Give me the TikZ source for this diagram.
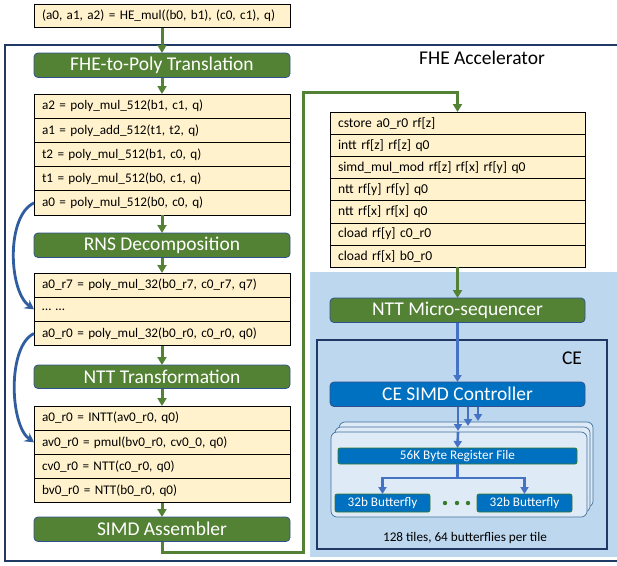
\documentclass[tikz,border=0pt]{standalone}
\usepackage{fontspec}
\setmainfont{Carlito}
\usepackage{tikz}
\usetikzlibrary{arrows.meta,positioning}
\definecolor{rowfill}{HTML}{FFF2CC}
\definecolor{stagegreen}{HTML}{548235}
\definecolor{stageborder}{HTML}{2F528F}
\definecolor{framenavy}{HTML}{1F3864}
\definecolor{regionblue}{HTML}{BDD7EE}
\definecolor{tilefill}{HTML}{DEEBF7}
\definecolor{tileborder}{HTML}{41719C}
\definecolor{ctrlblue}{HTML}{0070C0}
\definecolor{bfborder}{HTML}{3A7A2A}
\definecolor{wireblue}{HTML}{4472C4}
\definecolor{loopblue}{HTML}{2F5D9F}
\newcommand{\rowfont}{\fontsize{13.2}{15}\selectfont}
\newcommand{\instrfont}{\fontsize{13.6}{15}\selectfont}
\newcommand{\stagefont}{\fontsize{19.5}{22}\selectfont}
\newcommand{\smallfont}{\fontsize{13.2}{15}\selectfont}
\tikzset{
  row/.style={draw=black, line width=0.8pt, fill=rowfill, minimum height=24.2pt,
    text width=240pt, inner xsep=8pt, inner ysep=0pt, outer sep=0pt,
    anchor=north west, font=\rowfont},
  rrow/.style={row, minimum height=22.2pt, text width=239pt, font=\instrfont},
  stage/.style={draw=stageborder, line width=0.8pt, fill=stagegreen, rounded corners=4pt,
    minimum width=256pt, minimum height=24.5pt, inner sep=0pt, outer sep=0pt,
    anchor=north west, text=white, font=\stagefont},
  ctrl/.style={stage, fill=ctrlblue},
  unit/.style={draw=bfborder, line width=0.8pt, fill=ctrlblue, rounded corners=2pt,
    inner sep=0pt, outer sep=0pt, anchor=north west, text=white, font=\rowfont},
  tile/.style={draw=tileborder, line width=0.7pt, fill=tilefill, rounded corners=6pt},
  flow/.style={draw=stagegreen, line width=3pt, -{Triangle[length=8pt,width=9pt]}},
  wire/.style={draw=wireblue, line width=2.6pt, -{Triangle[length=7pt,width=8pt]}},
  loop/.style={draw=loopblue, line width=2.8pt, -{Stealth[length=9pt,width=10pt]}},
}
\begin{document}
\begin{tikzpicture}[x=1pt,y=-1pt]
  \useasboundingbox (0,0) rectangle (617,565);
  % accelerator frame (open to the right) and the CE region
  \fill[regionblue] (310,272) rectangle (617,557);
  \draw[framenavy, line width=2pt] (617,44.5) -- (5,44.5) -- (5,560.5) -- (617,560.5);
  \draw[framenavy, line width=1.5pt, fill=regionblue] (317,340) rectangle (607,549);
  \node[font=\stagefont] (acc) at (482,58) {FHE Accelerator};
  \node[font=\stagefont] (ce) at (572,358) {CE};

  % software side: top call
  \node[row, minimum height=23.5pt] (call) at (34,4) {(a0, a1, a2) = HE\_mul((b0, b1), (c0, c1), q)};
  \node[stage] (fhe) at (34,53) {FHE-to-Poly Translation};
  \node[row] (pa) at (34,94) {a2 = poly\_mul\_512(b1, c1, q)};
  \node[row] (pb) at (34,118.2) {a1 = poly\_add\_512(t1, t2, q)};
  \node[row] (pc) at (34,142.4) {t2 = poly\_mul\_512(b1, c0, q)};
  \node[row] (pd) at (34,166.6) {t1 = poly\_mul\_512(b0, c1, q)};
  \node[row] (pe) at (34,190.8) {a0 = poly\_mul\_512(b0, c0, q)};
  \node[stage] (rns) at (34,233) {RNS Decomposition};
  \node[row] (ra) at (34,273) {a0\_r7 = poly\_mul\_32(b0\_r7, c0\_r7, q7)};
  \node[row] (rb) at (34,297.2) {\dots\ \dots};
  \node[row] (rc) at (34,321.4) {a0\_r0 = poly\_mul\_32(b0\_r0, c0\_r0, q0)};
  \node[stage, minimum height=23.5pt] (ntt) at (34,365) {NTT Transformation};
  \node[row] (na) at (34,406) {a0\_r0 = INTT(av0\_r0, q0)};
  \node[row] (nb) at (34,430.2) {av0\_r0 = pmul(bv0\_r0, cv0\_0, q0)};
  \node[row] (nc) at (34,454.4) {cv0\_r0 = NTT(c0\_r0, q0)};
  \node[row] (nd) at (34,478.6) {bv0\_r0 = NTT(b0\_r0, q0)};
  \node[stage] (simd) at (34,517) {SIMD Assembler};

  \draw[flow] (call.south) -- (fhe.north);
  \draw[flow] (fhe.south) -- (pa.north);
  \draw[flow] (pe.south) -- (rns.north);
  \draw[flow] (rns.south) -- (ra.north);
  \draw[flow] (rc.south) -- (ntt.north);
  \draw[flow] (ntt.south) -- (na.north);
  \draw[flow] (nd.south) -- (simd.north);
  \draw[loop] (pe.west) to[out=205, in=145, looseness=0.75] (rb.west);
  \draw[loop] (rc.west) to[out=205, in=145, looseness=0.7] (nb.west);

  % instruction stream
  \node[rrow] (ia) at (330,112) {cstore a0\_r0 rf[z]};
  \node[rrow] (ib) at (330,134.2) {intt rf[z] rf[z] q0};
  \node[rrow] (ic) at (330,156.4) {simd\_mul\_mod rf[z] rf[x] rf[y] q0};
  \node[rrow] (id) at (330,178.6) {ntt rf[y] rf[y] q0};
  \node[rrow] (ie) at (330,200.8) {ntt rf[x] rf[x] q0};
  \node[rrow] (if) at (330,223) {cload rf[y] c0\_r0};
  \node[rrow] (ig) at (330,245.2) {cload rf[x] b0\_r0};
  \coordinate (backlow) at (303,552);
  \coordinate (backtop) at (303,92);
  \draw[flow] (simd.south) |- (backlow) -- (backtop) -| (ia.north);

  % micro-sequencer and compute engine
  \node[stage, minimum width=255pt] (useq) at (330,298) {NTT Micro-sequencer};
  \node[ctrl, minimum width=255pt] (simdctl) at (330,382) {CE SIMD Controller};
  \draw[flow] (ig.south) -- (useq.north);
  \draw[wire] (useq.south) -- (simdctl.north);

  \path[tile] (339,422) rectangle (593,507);
  \path[tile] (335,427) rectangle (590,512);
  \path[tile] (331,432) rectangle (587,517);
  \coordinate (tback) at (478,421);
  \coordinate (tmid) at (468,426);
  \coordinate (tfront) at (458,431);
  \node[unit, minimum width=239pt, minimum height=16pt] (rf) at (338,448) {56K Byte Register File};
  \node[unit, minimum width=95pt, minimum height=18pt] (bfl) at (335,494) {32b Butterfly};
  \node[unit, minimum width=95pt, minimum height=18pt] (bfr) at (477,494) {32b Butterfly};
  \foreach \x in {445,457,468}
    \fill[bfborder] (\x,503) circle (2.2pt);

  \draw[wire] (simdctl.south -| tback) -- (tback);
  \draw[wire] (simdctl.south -| tmid) -- (tmid);
  \draw[wire] (simdctl.south -| tfront) -- (tfront);
  \draw[wire] ([yshift=-1pt]tfront) -- (rf.north);
  \draw[wire] (rf.south) -- ++(0,14) -| (bfl.north);
  \draw[wire] (rf.south) -- ++(0,14) -| (bfr.north);
  \node[font=\smallfont] (tiles) at (465,538) {128 tiles, 64 butterflies per tile};
\end{tikzpicture}
\end{document}
